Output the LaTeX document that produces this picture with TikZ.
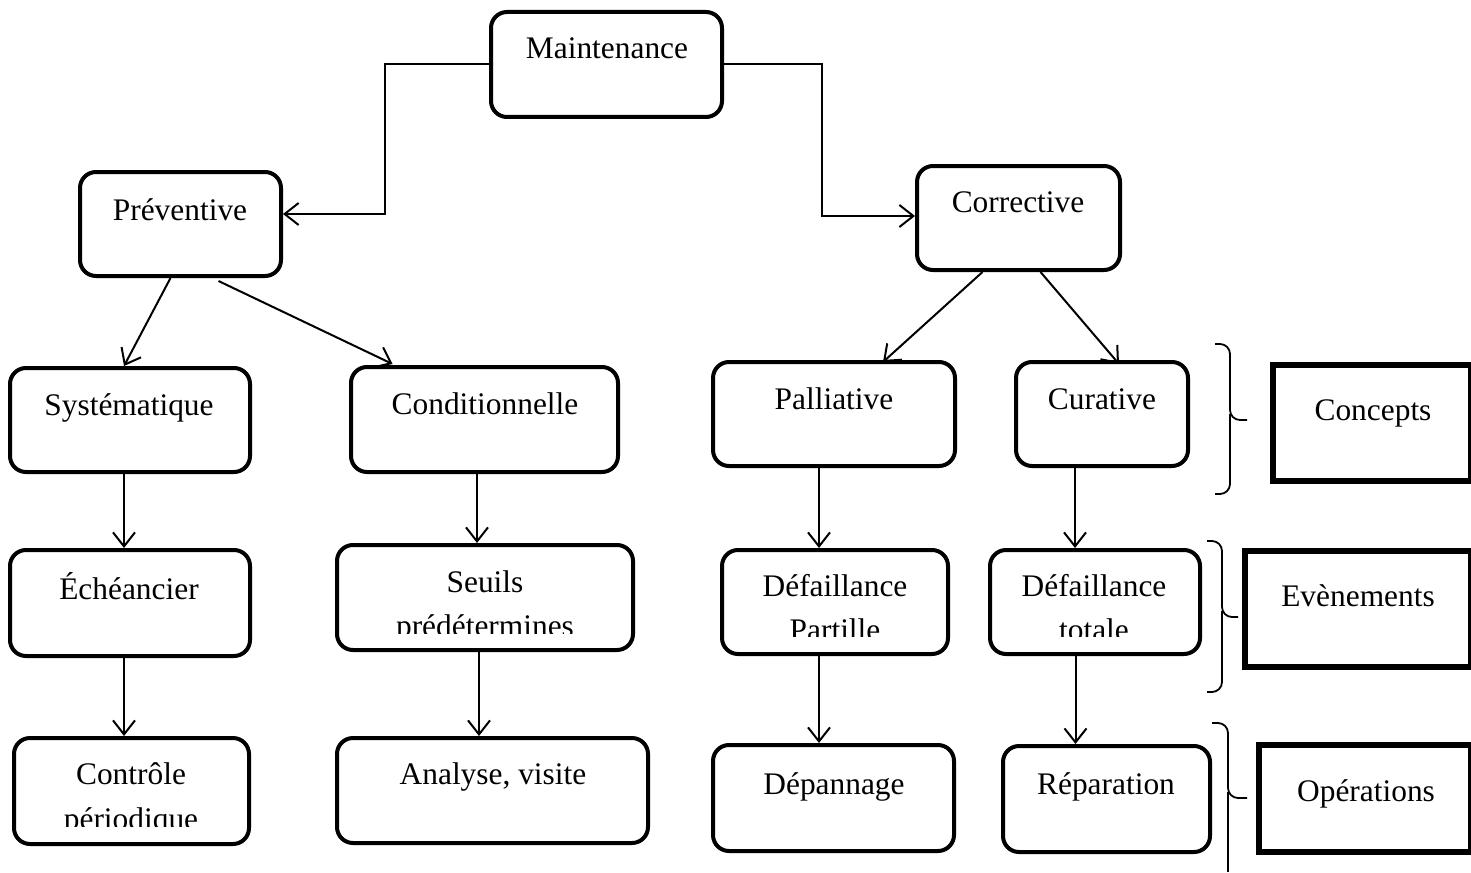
\documentclass[tikz,border=0pt]{standalone}
\usepackage{fontspec}
\setmainfont{Liberation Serif}
\usetikzlibrary{arrows.meta,fit}
\begin{document}
\begin{tikzpicture}[x=0.5pt,y=-0.5pt,
  box/.style={draw,line width=2pt,rounded corners=8pt,inner sep=0pt},
  tag/.style={draw,line width=2.6pt,inner sep=0pt},
  txt/.style={anchor=base,inner sep=0pt,font=\fontsize{15.7}{19}\selectfont},
  arr/.style={line width=1pt,-{Straight Barb[length=7pt,width=11pt,line width=1pt]}},
  brace/.style={line width=0.9pt,rounded corners=5pt}]
\useasboundingbox (0,0) rectangle (1471,872);

% boxes
\node[box,fit={(491,12)(722,117)}] (mnt) {};
\node[box,fit={(80,172)(281,276)}] (prev) {};
\node[box,fit={(917,166)(1120,270)}] (cor) {};
\node[box,fit={(10,368)(250,472)}] (syst) {};
\node[box,fit={(351,367)(618,472)}] (cond) {};
\node[box,fit={(713,362)(955,466)}] (pall) {};
\node[box,fit={(1016,362)(1188,466)}] (cur) {};
\node[box,fit={(10,550)(250,656)}] (ech) {};
\node[box,fit={(337,545)(633,650)}] (seuils) {};
\node[box,fit={(722,550)(948,654)}] (defp) {};
\node[box,fit={(990,550)(1200,654)}] (deft) {};
\node[box,fit={(14,738)(249,844)}] (ctrl) {};
\node[box,fit={(337,738)(648,843)}] (ana) {};
\node[box,fit={(713,745)(954,851)}] (dep) {};
\node[box,fit={(1003,746)(1210,852)}] (rep) {};
\node[tag,fit={(1273,365)(1471,481)}] (concepts) {};
\node[tag,fit={(1245,551)(1471,667)}] (events) {};
\node[tag,fit={(1259,745)(1471,852)}] (ops) {};

% labels
\node[txt] (mnt-t) at (607,59) {Maintenance};
\node[txt] (prev-t) at (180,220) {Préventive};
\node[txt] (cor-t) at (1018,212) {Corrective};
\node[txt] (syst-t) at (129,415) {Systématique};
\node[txt] (cond-t) at (485,414) {Conditionnelle};
\node[txt] (pall-t) at (834,409) {Palliative};
\node[txt] (cur-t) at (1102,409) {Curative};
\node[txt] (ech-t) at (129,599) {Échéancier};
\node[txt] (seuils-t) at (485,592) {Seuils};
\node[txt] (defp-t) at (835,596) {Défaillance};
\node[txt] (deft-t) at (1094,596) {Défaillance};
\node[txt] (ctrl-t) at (131,784) {Contrôle};
\node[txt] (ana-t) at (493,784) {Analyse, visite};
\node[txt] (dep-t) at (834,794) {Dépannage};
\node[txt] (rep-t) at (1106,794) {Réparation};
\node[txt] (concepts-t) at (1373,420) {Concepts};
\node[txt] (events-t) at (1358,606) {Evènements};
\node[txt] (ops-t) at (1366,801) {Opérations};

% second lines, cut off by the box bottom
\begin{scope}
  \clip (337,600) rectangle (633,633);
  \node[txt] (seuils-t2) at (485,636) {prédétermines};
\end{scope}
\begin{scope}
  \clip (722,600) rectangle (948,636);
  \node[txt] (defp-t2) at (835,640) {Partille};
\end{scope}
\begin{scope}
  \clip (990,600) rectangle (1200,636);
  \node[txt] (deft-t2) at (1094,640) {totale};
\end{scope}
\begin{scope}
  \clip (14,790) rectangle (249,826);
  \node[txt] (ctrl-t2) at (131,829) {périodique};
\end{scope}

% connectors
\draw[arr] (mnt.west) -- ++(-104,0) |- ([yshift=5pt]prev.east);
\draw[arr] (mnt.east) -- ++(98,0) |- ([yshift=1pt]cor.west);
\draw[arr] ([xshift=-5pt]prev.south) -- ([xshift=-3pt]syst.north);
\draw[arr] ([xshift=19pt,yshift=-1.5pt]prev.south) -- ([xshift=-46pt,yshift=0.5pt]cond.north);
\draw[arr] ([xshift=-18pt]cor.south) -- ([xshift=24.5pt,yshift=-1pt]pall.north);
\draw[arr] ([xshift=11pt]cor.south) -- ([xshift=8.5pt,yshift=-2pt]cur.north);
\draw[arr] ([xshift=-3pt]syst.south) -- ([xshift=-3pt]syst.south |- ech.north);
\draw[arr] ([xshift=-3.75pt]cond.south) -- ([xshift=-3.75pt]cond.south |- seuils.north);
\draw[arr] ([xshift=-7.5pt]pall.south) -- ([xshift=-7.5pt]pall.south |- defp.north);
\draw[arr] ([xshift=-13.5pt]cur.south) -- ([xshift=-13.5pt]cur.south |- deft.north);
\draw[arr] ([xshift=-3pt]ech.south) -- ([xshift=-3pt]ech.south |- ctrl.north);
\draw[arr] ([xshift=-3pt]seuils.south) -- ([xshift=-3pt]seuils.south |- ana.north);
\draw[arr] ([xshift=-8pt]defp.south) -- ([xshift=-8pt]defp.south |- dep.north);
\draw[arr] ([xshift=-9.75pt]deft.south) -- ([xshift=-9.75pt]deft.south |- rep.north);

% braces
\draw[brace] (1215,344) -- (1230,344) -- (1230,420) -- (1247,420);
\draw[brace] (1230,414) -- (1230,494) -- (1215,494);
\draw[brace] (1207,541) -- (1222,541) -- (1222,617) -- (1238,617);
\draw[brace] (1222,611) -- (1222,692) -- (1207,692);
\draw[brace] (1212,723) -- (1228,723) -- (1228,798) -- (1247,798);
\draw[line width=0.9pt] (1228,792) -- (1228,872);
\end{tikzpicture}
\end{document}
